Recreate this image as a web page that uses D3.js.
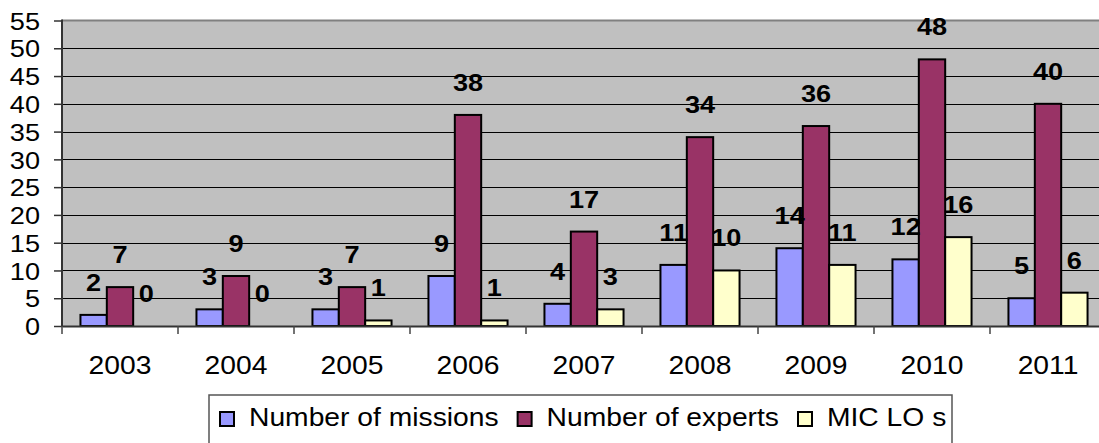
<!DOCTYPE html>
<html><head><meta charset="utf-8">
<script src="https://cdn.jsdelivr.net/npm/d3@7"></script>
<style>body{margin:0;background:#fff}svg{display:block;font-family:Arial,"Liberation Sans",sans-serif}</style>
</head><body>
<svg id="c" width="1099" height="443"></svg>
<script>
const years = ["2003","2004","2005","2006","2007","2008","2009","2010","2011"];
const missions = [2,3,3,9,4,11,14,12,5];
const experts = [7,9,7,38,17,34,36,48,40];
const micLOs = [0,0,1,1,3,10,11,16,6];
const seriesNames = ["Number of missions","Number of experts","MIC LO s"];
const seriesColors = ["#9999FF","#993366","#FFFFCC"];
const yTicks = [0,5,10,15,20,25,30,35,40,45,50,55];

const STRETCH = 1.13;
const svg = d3.select("#c");
const L = 62, T = 20.5, B = 326, step = 116, R = L + step*years.length;

const x = d3.scaleBand().domain(years).range([L, R]).paddingInner(0).paddingOuter(0);
const y = d3.scaleLinear().domain([0,55]).range([B, T]);
const barW = step/4.4;
const inner = d3.scaleBand().domain(d3.range(3)).range([(step-3*barW)/2, (step+3*barW)/2]);

function stretch(sel){
  sel.each(function(){
    const w = this.getComputedTextLength();
    if (w>0){ this.setAttribute("textLength", w*STRETCH); this.setAttribute("lengthAdjust","spacingAndGlyphs"); }
  });
}

// plot background
svg.append("rect").attr("x",L).attr("y",T).attr("width",R-L).attr("height",B-T).attr("fill","#C0C0C0");
svg.append("line").attr("x1",L).attr("x2",R).attr("y1",T).attr("y2",T).attr("stroke","#808080").attr("stroke-width",2);

// gridlines
svg.append("g").selectAll("line").data(yTicks.filter(d=>d>0 && d<55)).join("line")
  .attr("x1",L).attr("x2",R).attr("y1",d=>Math.round(y(d))+0.5).attr("y2",d=>Math.round(y(d))+0.5)
  .attr("stroke","#000").attr("stroke-width",1);

// y axis
const yAxis = svg.append("g").attr("transform",`translate(${L},0)`)
  .call(d3.axisLeft(y).tickValues(yTicks).tickSize(8).tickPadding(14).tickFormat(d3.format("d")));
yAxis.select(".domain").remove();
yAxis.selectAll(".tick line").attr("stroke","#333").attr("stroke-width",1.5);
yAxis.selectAll("text").attr("font-size",24).attr("fill","#000").attr("font-family","Arial, 'Liberation Sans', sans-serif").attr("dy","0.36em");
svg.append("line").attr("x1",L).attr("x2",L).attr("y1",T-1).attr("y2",B+1).attr("stroke","#333").attr("stroke-width",2);

// bars
const data = years.map((yr,i)=>({yr, vals:[missions[i],experts[i],micLOs[i]]}));
const groups = svg.append("g").selectAll("g").data(data).join("g")
  .attr("transform",d=>`translate(${x(d.yr)},0)`);
groups.selectAll("rect").data(d=>d.vals.map((v,k)=>({v,k}))).join("rect")
  .attr("x",d=>inner(d.k)).attr("width",barW)
  .attr("y",d=>y(d.v)).attr("height",d=>B-y(d.v))
  .attr("fill",d=>seriesColors[d.k]).attr("stroke",d=>d.v>0?"#000":"none").attr("stroke-width",2);

// x axis
const xAxis = svg.append("g").attr("transform",`translate(0,${B})`)
  .call(d3.axisBottom(x).tickSize(0).tickPadding(30));
xAxis.select(".domain").attr("stroke","#333").attr("stroke-width",2);
xAxis.selectAll("text").attr("font-size",25).attr("fill","#000").attr("font-family","Arial, 'Liberation Sans', sans-serif");
svg.append("g").selectAll("line").data(d3.range(years.length+1)).join("line")
  .attr("x1",i=>L+i*step).attr("x2",i=>L+i*step).attr("y1",B).attr("y2",B+8)
  .attr("stroke","#444").attr("stroke-width",1.5);

// data labels
const lbl = groups.selectAll("text.v").data(d=>d.vals.map((v,k)=>({v,k}))).join("text")
  .attr("class","v")
  .attr("x",d=>inner(d.k)+barW/2).attr("y",d=>y(d.v)-24)
  .attr("text-anchor","middle").attr("font-size",24).attr("font-weight","bold").attr("fill","#000")
  .text(d=>d.v);

// legend
const lg = svg.append("g");
lg.append("rect").attr("x",209).attr("y",395).attr("width",743).attr("height",60)
  .attr("fill","#fff").attr("stroke","#555").attr("stroke-width",1.5);
let lx = 220;
seriesNames.forEach((n,k)=>{
  lg.append("rect").attr("x",lx).attr("y",412).attr("width",14).attr("height",14)
    .attr("fill",seriesColors[k]).attr("stroke","#000").attr("stroke-width",2);
  const t = lg.append("text").attr("x",lx+29).attr("y",426).attr("font-size",25).attr("fill","#000").text(n);
  stretch(t);
  lx += 29 + t.node().getComputedTextLength()*1 + 0;
  const tl = +t.attr("textLength");
  lx = lx - t.node().getComputedTextLength() + tl + 19;
});

stretch(yAxis.selectAll("text"));
stretch(xAxis.selectAll("text"));
stretch(lbl);
</script>
</body></html>
